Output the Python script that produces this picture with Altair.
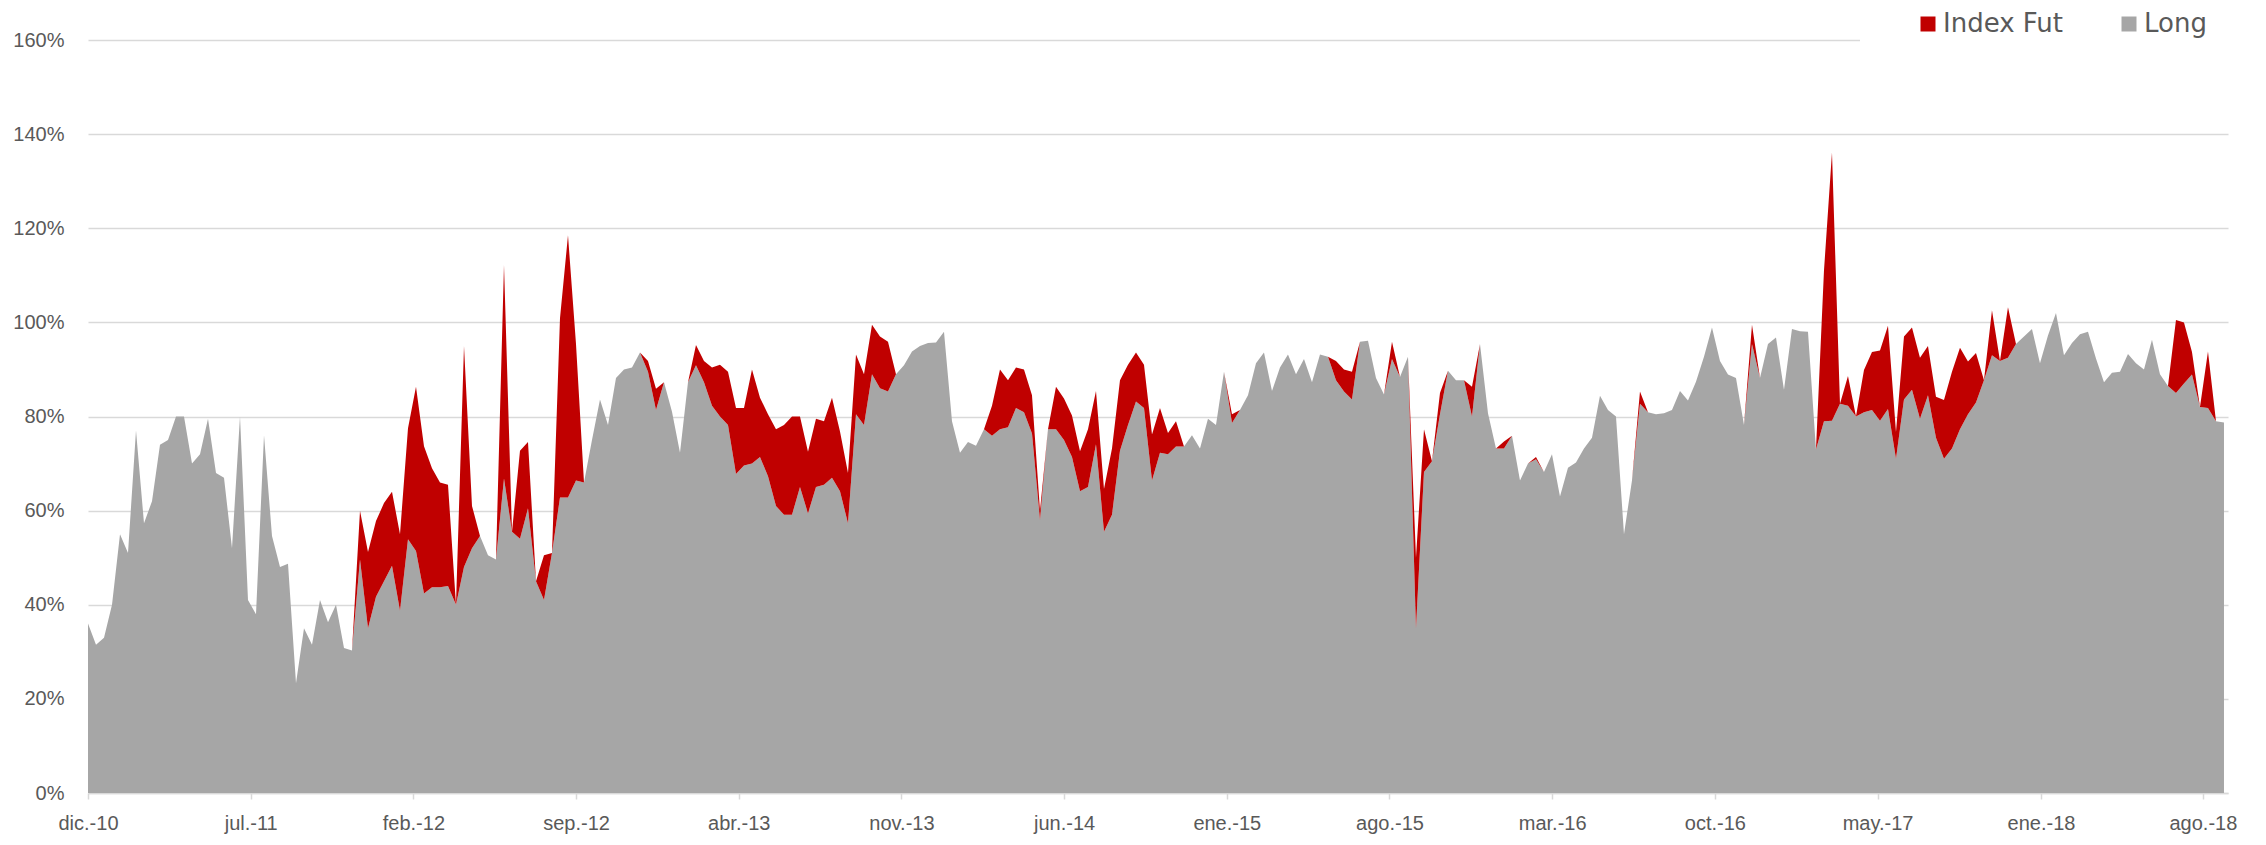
import altair as alt
import pandas as pd

# ---- data (percent of assets) ----
long_pct = [
    # dic.-10 .. feb.-12
    36, 31.5, 33, 40, 55, 51, 77, 57.3, 62, 74, 75, 80, 80, 70, 72, 79.5, 68, 67, 52, 80,
    41, 38, 76, 54.6, 48, 48.7, 23.3, 35, 31.5, 41, 36.3, 40, 30.8, 30.3, 49.6, 35, 41.7,
    45, 48.3, 38.7, 53.9, 51.4, 42.4, 43.7, 43.7,
    # feb.-12 .. nov.-13
    44, 40, 48, 52, 54.6, 50.5, 49.6, 66.8, 55.5, 54, 60.5, 45, 41, 51, 62.8, 62.8, 66.4,
    66, 75, 83.6, 78.2, 88.2, 90, 90.4, 93.6, 89.5, 81.4, 87.3, 81, 72.3, 87.3, 90.9, 87.3,
    82.3, 80, 78.2, 67.8, 69.6, 70, 71.4, 67.3, 61, 59.1, 59.1, 65,
    # nov.-13 .. ene.-15
    59.4, 65, 65.5, 67, 64.1, 57.3, 80.5, 78.2, 89, 86, 85.3, 89, 90.9, 93.8, 95, 95.6,
    95.7, 98, 79, 72.3, 74.6, 73.8, 77.3, 75.9, 77.3, 77.7, 81.8, 80.9, 76.4, 58, 77.3,
    77.3, 75, 71.4, 64.1, 65, 74.1, 55.5, 59.1, 72.7, 78.2, 83.2, 81.8, 66.4, 72.3,
    # ene.-15 .. mar.-16
    72, 73.6, 73.6, 76, 73.2, 79.5, 78.2, 89.5, 78.6, 81.4, 84.5, 91.3, 93.6, 85.4, 90.4,
    93.2, 89, 92.2, 87.3, 93.2, 92.7, 87.7, 85.3, 83.6, 95.9, 96.1, 88.2, 84.7, 92.2, 88.4,
    92.7, 35, 68.2, 70.5, 80.5, 89.7, 87.7, 87.7, 80, 95.4, 80.7, 73.2, 73.2, 75.9, 66.4,
    # mar.-16 .. may.-17
    70, 70.9, 68.2, 72, 63, 69.1, 70.2, 73.2, 75.5, 84.4, 81.4, 80, 55, 66.4, 82.7, 80.9,
    80.5, 80.7, 81.4, 85.4, 83.4, 87.4, 92.7, 98.9, 91.8, 88.9, 88.2, 78.2, 95.4, 88.2,
    95.4, 96.8, 85.7, 98.6, 98.1, 98, 73, 79, 79.1, 82.7, 82.3, 80, 80.9, 81.4, 79.1,
    # may.-17 .. ago.-18
    81.6, 71, 83.6, 85.7, 79.5, 84.5, 75.5, 71, 73.2, 77.3, 80.5, 83, 87.7, 93, 91.8, 92.5,
    95.4, 97, 98.6, 91.3, 97.2, 102, 93, 95.6, 97.5, 98, 92.3, 87.3, 89.3, 89.5, 93.3,
    91.3, 90, 96.3, 89, 86.5, 85, 87, 88.9, 82, 81.8, 79, 78.7,
]

index_fut_pct = [
    0, 0, 0, 0, 0, 0, 0, 0, 0, 0, 0, 0, 0, 0, 0, 0, 0, 0, 0, 0,
    0, 0, 0, 0, 0, 0, 0, 0, 0, 0, 0, 0, 0, 0, 10.4, 16.2, 16.1,
    16.6, 15.7, 16.3, 23.6, 34.9, 31.3, 25.3, 22.3,
    21.5, 0, 47, 9, 0, 0, 0, 45.4, 0, 18.7, 14.1, 0, 9.5, 0, 38.1, 55.7, 29,
    0, 0, 0, 0, 0, 0, 0, 0, 2.3, 4.5, 0, 0, 0, 0, 4.3, 4.5,
    8.1, 11, 11.3, 14, 12.2, 20, 12.6, 13.2, 16.3, 19.1, 20.9, 15,
    13.1, 14.5, 13.5, 17, 12.7, 10.7, 12.7, 10.8, 10.5, 11, 10.6, 0, 0, 0, 0, 0,
    0, 0, 0, 0, 0, 0, 0, 6.4, 12.7, 10, 8.6, 9.1, 8.1, 2, 0,
    9, 8.8, 8.8, 8.5, 12.3, 11.3, 9.1, 14.1, 15, 12.8, 10.4, 9.2, 9.8, 9.5,
    4.5, 5.4, 0, 0, 0, 0, 0, 0, 1.9, 0, 0, 0, 0, 0, 0,
    0, 0, 0, 0, 0, 0, 4.1, 4.7, 5.9, 0, 0, 0, 0, 3.7, 0,
    0, 15, 9.1, 0, 4.5, 0, 0, 0, 6.3, 0, 0, 0, 1.5, 0, 0,
    0, 0.5, 0, 0, 0, 0, 0, 0, 0, 0, 0, 0, 0, 0, 2.6, 0,
    0, 0, 0, 0, 0, 0, 0, 0, 0, 0, 0, 0, 4.1, 0,
    0, 0, 0, 0, 0, 0, 0, 32, 57, 0, 6.3, 0, 9, 12.3, 14.9, 17.7,
    5.7, 13.4, 13.2, 13, 10.5, 8.7, 12.5, 16.3, 17.3, 11.2, 10.5, 0, 9.6, 0, 10.7, 0,
    0, 0, 0, 0, 0, 0, 0, 0, 0, 0, 0, 0, 0, 0, 0,
    0, 0, 0, 0, 15.5, 13, 4.8, 0, 12, 0, 0, 2.8,
]

first_date = "2010-12-20"
last_date = "2018-08-29T17:00:00"
domain_start = (2010, 12, 20)
domain_end = (2018, 9, 4)

tick_dates = [
    (2010, 12, 20), (2011, 7, 22), (2012, 2, 21), (2012, 9, 22), (2013, 4, 24),
    (2013, 11, 24), (2014, 6, 26), (2015, 1, 26), (2015, 8, 28), (2016, 3, 29),
    (2016, 10, 29), (2017, 5, 31), (2018, 1, 1), (2018, 8, 2),
]
month_abbr_es = ["ene.", "feb.", "mar.", "abr.", "may.", "jun.",
                 "jul.", "ago.", "sep.", "oct.", "nov.", "dic."]
y_ticks = [0, 20, 40, 60, 80, 100, 120, 140, 160]

series = ["Index Fut", "Long"]
colors = ["#c00000", "#a6a6a6"]

# ---- table ----
dates = pd.date_range(first_date, last_date, periods=len(long_pct), tz="UTC")
rows = []
for d, l, f in zip(dates, long_pct, index_fut_pct):
    ts = d.strftime("%Y-%m-%dT%H:%M:%SZ")
    rows.append({"date": ts, "serie": "Long", "value": l, "ord": 0})
    rows.append({"date": ts, "serie": "Index Fut", "value": f, "ord": 1})
df = pd.DataFrame(rows)


def dt(t):
    return alt.DateTime(year=t[0], month=t[1], date=t[2], utc=True)


months_js = "[" + ",".join("'%s'" % m for m in month_abbr_es) + "]"
x_label_expr = months_js + "[utcmonth(datum.value)] + '-' + utcFormat(datum.value, '%y')"

LABEL_FONT = "Liberation Sans"
TEXT_COLOR = "#595959"
GRID = "#d9d9d9"

chart = (
    alt.Chart(df)
    .mark_area(interpolate="linear")
    .encode(
        x=alt.X(
            "date:T",
            scale=alt.Scale(type="utc", domain=[dt(domain_start), dt(domain_end)], nice=False),
            axis=alt.Axis(
                values=[dt(t) for t in tick_dates],
                labelExpr=x_label_expr,
                title=None,
                grid=False,
                domainColor=GRID,
                domainWidth=1.5,
                tickColor=GRID,
                tickWidth=1.5,
                tickSize=6,
                labelPadding=14,
                labelFont=LABEL_FONT,
                labelFontSize=20,
                labelColor=TEXT_COLOR,
                labelOverlap=False,
                labelFlush=False,
            ),
        ),
        y=alt.Y(
            "value:Q",
            stack="zero",
            scale=alt.Scale(domain=[0, 160], nice=False),
            axis=alt.Axis(
                values=y_ticks,
                labelExpr="datum.value + '%'",
                title=None,
                domain=False,
                ticks=False,
                tickSize=0,
                labelPadding=24,
                gridColor=GRID,
                gridWidth=1.5,
                labelFont=LABEL_FONT,
                labelFontSize=20,
                labelColor=TEXT_COLOR,
                labelFlush=False,
                labelOverlap=False,
            ),
        ),
        color=alt.Color(
            "serie:N",
            scale=alt.Scale(domain=series, range=colors),
            legend=alt.Legend(
                title=None,
                orient="none",
                legendX=1772,
                legendY=-84,
                direction="horizontal",
                symbolType="square",
                symbolSize=225,
                symbolStrokeWidth=0,
                symbolOpacity=1,
                labelFont="DejaVu Sans",
                labelFontSize=26,
                labelColor=TEXT_COLOR,
                labelOffset=2,
                columnPadding=52,
                fillColor="white",
                padding=55,
            ),
        ),
        order=alt.Order("ord:Q"),
    )
    .properties(
        width=2140,
        height=753,
        autosize=alt.AutoSizeParams(type="none"),
        padding={"left": 80, "top": 32, "right": 30, "bottom": 44},
    )
    .configure_view(stroke=None)
)

chart.save("out.html", embed_options={"renderer": "svg", "actions": False})
